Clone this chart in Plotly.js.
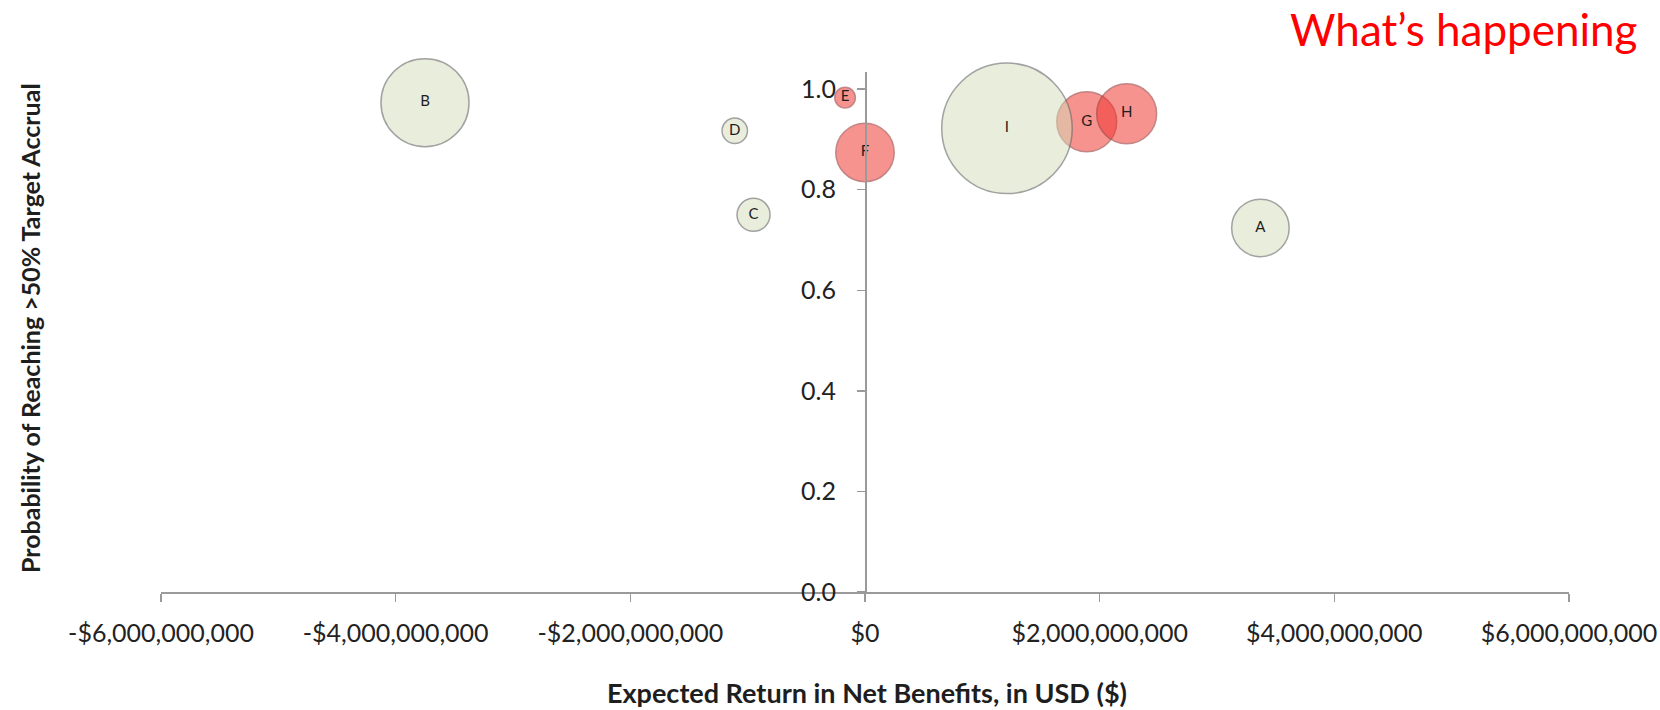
<!DOCTYPE html>
<html>
<head>
<meta charset="utf-8">
<script src="https://cdn.plot.ly/plotly-3.0.1.min.js"></script>
<style>html,body{margin:0;padding:0;background:#fff;}#chart{width:1660px;height:710px;}</style>
</head>
<body>
<div id="chart"></div>
<script>
// ---- data ----
const labels      = ['A', 'B', 'C', 'D', 'E', 'F', 'G', 'H', 'I'];
const netBenefit  = [3.37e9, -3.75e9, -0.95e9, -1.11e9, -0.17e9, 0.0, 1.89e9, 2.23e9, 1.21e9];
const probability = [0.724, 0.973, 0.750, 0.917, 0.983, 0.874, 0.935, 0.951, 0.922];
const bubbleSize  = [19.4, 45.5, 6.4, 3.8, 2.5, 20.1, 21.1, 21.1, 100];
const isHappening = [false, false, false, false, true, true, true, true, false];

const xTickVals = [-6e9, -4e9, -2e9, 0, 2e9, 4e9, 6e9];
const xTickText = ['-$6,000,000,000', '-$4,000,000,000', '-$2,000,000,000', '$0',
                   '$2,000,000,000', '$4,000,000,000', '$6,000,000,000'];
const yTickVals = [0, 0.2, 0.4, 0.6, 0.8, 1.0];
const yTickText = ['0.0', '0.2', '0.4', '0.6', '0.8', '1.0'];

const xTitle = 'Expected Return in Net Benefits, in USD ($)';
const yTitle = 'Probability of Reaching >50% Target Accrual';
const cornerText = 'What\u2019s happening';

function pick(arr, flag) { return arr.filter((_, i) => isHappening[i] === flag); }

const FONT = 'Lato, "Open Sans", sans-serif';

function makeTrace(flag, fill, edge) {
  return {
    type: 'scatter',
    mode: 'markers+text',
    x: pick(netBenefit, flag),
    y: pick(probability, flag),
    text: pick(labels, flag),
    textposition: 'middle center',
    textfont: {family: FONT, size: 15, color: '#1e1e1e'},
    cliponaxis: false,
    hoverinfo: 'skip',
    showlegend: false,
    marker: {
      size: pick(bubbleSize, flag),
      sizemode: 'area',
      sizeref: 0.011744,
      color: fill,
      line: {color: edge, width: 1.5}
    }
  };
}

const traces = [
  makeTrace(true, 'rgba(240,48,42,0.74)', 'rgba(150,60,60,0.8)'),
  makeTrace(false, 'rgba(212,221,186,0.72)', 'rgba(110,110,110,0.9)')
];

const layout = {
  width: 1660, height: 710,
  margin: {l: 161, r: 91, t: 72, b: 118},
  paper_bgcolor: '#fff', plot_bgcolor: '#fff',
  font: {family: FONT, color: '#222'},
  xaxis: {
    range: [-6e9, 6e9],
    domain: [0, 1],
    tickvals: xTickVals, ticktext: xTickText,
    tickfont: {family: FONT, size: 25, color: '#222'},
    showgrid: false, zeroline: false,
    showline: true, linecolor: '#9a9a9a', linewidth: 1.5,
    ticks: 'outside', ticklen: 8, tickcolor: '#9a9a9a', tickwidth: 1.5,
    ticklabelstandoff: 10,
    fixedrange: true
  },
  yaxis: {
    range: [0, 1.034],
    anchor: 'free', position: 0.5,
    tickvals: yTickVals, ticktext: yTickText,
    tickfont: {family: FONT, size: 25, color: '#222'},
    showgrid: false, zeroline: false,
    showline: true, linecolor: '#9a9a9a', linewidth: 1.5,
    ticks: 'outside', ticklen: 8, tickcolor: '#9a9a9a', tickwidth: 1.5,
    ticklabelstandoff: 16,
    fixedrange: true
  },
  annotations: [
    {text: '<b>' + xTitle + '</b>', xref: 'paper', yref: 'paper', x: 0.5014, y: -0.194,
     xanchor: 'center', yanchor: 'middle', showarrow: false,
     font: {family: FONT, size: 27, color: '#1e1e1e'}},
    {text: '<b>' + yTitle + '</b>', xref: 'paper', yref: 'paper', x: -0.093, y: 0.5077,
     xanchor: 'center', yanchor: 'middle', textangle: -90, showarrow: false,
     font: {family: FONT, size: 25, color: '#1e1e1e'}},
    {text: cornerText, xref: 'paper', yref: 'paper', x: 1.0504, y: 1.0827,
     xanchor: 'right', yanchor: 'middle', showarrow: false,
     font: {family: FONT, size: 44, color: '#ff0000'}}
  ]
};

Plotly.newPlot('chart', traces, layout, {staticPlot: true, displayModeBar: false});
</script>
</body>
</html>
